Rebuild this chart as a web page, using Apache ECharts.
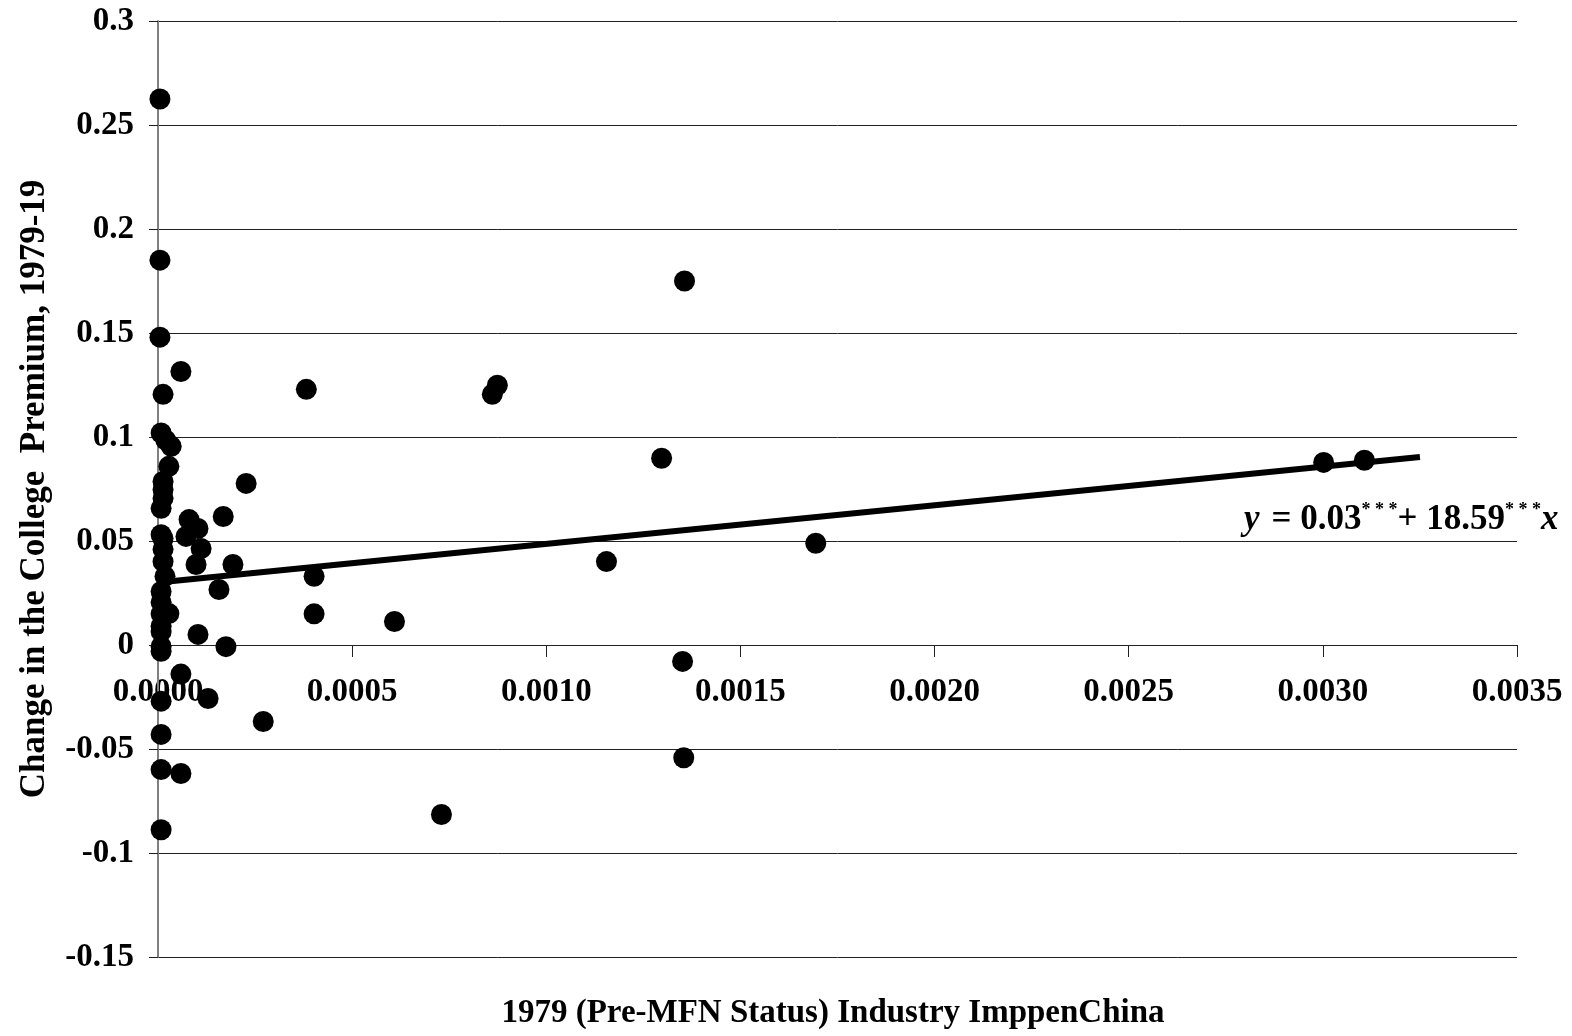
<!DOCTYPE html>
<html>
<head>
<meta charset="utf-8">
<script src="https://cdn.jsdelivr.net/npm/echarts@6/dist/echarts.min.js"></script>
<style>html,body{margin:0;padding:0;background:#fff}#c{width:1572px;height:1036px}</style>
</head>
<body>
<div id="c"></div>
<script>
// Data
const xValues = [
  0.000005, 0.000005, 0.000005, 0.000013, 0.000059,
  0.000008, 0.000020, 0.000034, 0.000028, 0.000013,
  0.000013, 0.000013, 0.000008, 0.000008, 0.000013,
  0.000013, 0.000013, 0.000018, 0.000008, 0.000008,
  0.000008, 0.000028, 0.000008, 0.000008, 0.000059,
  0.000008, 0.000129, 0.000008, 0.000008, 0.000059,
  0.000008, 0.000080, 0.000103, 0.000072, 0.000111,
  0.000098, 0.000168, 0.000227, 0.000193, 0.000157,
  0.000103, 0.000175, 0.000271, 0.000382, 0.000402,
  0.000402, 0.000609, 0.000730, 0.000861, 0.000874,
  0.001155, 0.001297, 0.001356, 0.001351, 0.001354,
  0.001694, 0.003002, 0.003107, 0.000008, 0.000008
];
const yValues = [
  0.2625, 0.185, 0.148, 0.1205, 0.1315,
  0.1019, 0.0985, 0.0955, 0.0859, 0.0786,
  0.0748, 0.0705, 0.0657, 0.0530, 0.0512,
  0.0460, 0.0401, 0.0330, 0.0257, 0.0205,
  0.0150, 0.0151, 0.0090, 0.0064, -0.0140,
  -0.0030, -0.0257, -0.0270, -0.0430, -0.0618,
  -0.0599, 0.0603, 0.0560, 0.0522, 0.0464,
  0.0387, 0.0618, 0.0777, 0.0387, 0.0267,
  0.0051, -0.0008, -0.0368, 0.1229, 0.0330,
  0.0150, 0.0113, -0.0815, 0.1205, 0.1249,
  0.0401, 0.0898, 0.1750, -0.0079, -0.0542,
  0.0489, 0.0878, 0.0888, -0.0888, -0.0007
];

const fitIntercept = 0.03;
const fitSlope = 18.59;
const fitXRange = [0, 0.00325];

const xTickValues = [0, 0.0005, 0.001, 0.0015, 0.002, 0.0025, 0.003, 0.0035];
const xTickLabels = ['0.0000','0.0005','0.0010','0.0015','0.0020','0.0025','0.0030','0.0035'];
const yTickLabels = ['-0.15','-0.1','-0.05','0','0.05','0.1','0.15','0.2','0.25','0.3'];

const pts = xValues.map((x, i) => [x, yValues[i]]);
const fitLine = fitXRange.map(x => [x, fitIntercept + fitSlope * x]);

const FONT = '"Liberation Serif", "Times New Roman", serif';
const chart = echarts.init(document.getElementById('c'), null, {renderer: 'canvas'});
const option = {
  animation: false,
  backgroundColor: '#fff',
  grid: {left: 158, right: 55, top: 21, bottom: 79, containLabel: false},
  xAxis: {
    type: 'value', min: 0, max: 0.0035, interval: 0.0005,
    axisLine: {show: true, onZero: true, lineStyle: {color: '#222', width: 1}},
    axisTick: {show: true, length: 12, lineStyle: {color: '#222'}},
    splitLine: {show: false},
    axisLabel: {show: false}
  },
  yAxis: {
    type: 'value', min: -0.15, max: 0.3, interval: 0.05,
    name: 'Change in the College  Premium, 1979-19',
    nameLocation: 'middle', nameGap: 106, nameRotate: 90,
    nameTextStyle: {fontFamily: FONT, fontWeight: 'bold', fontSize: 35, color: '#000'},
    axisLine: {show: true, onZero: false, lineStyle: {color: '#808080', width: 2}},
    axisTick: {show: true, length: 9, lineStyle: {color: '#222'}},
    splitLine: {show: true, lineStyle: {color: '#222', width: 1}},
    axisLabel: {
      margin: 24, fontFamily: FONT, fontWeight: 'bold', fontSize: 33, color: '#000',
      formatter: v => yTickLabels[Math.round((v + 0.15) / 0.05)]
    }
  },
  series: [
    {
      type: 'line', data: fitLine, showSymbol: false, symbol: 'none', z: 3,
      lineStyle: {color: '#000', width: 6}
    },
    {
      type: 'scatter', data: pts, symbol: 'circle', symbolSize: 21, z: 4,
      itemStyle: {color: '#000', opacity: 1}
    }
  ]
};
chart.setOption(option);

const graphics = [
  {
    type: 'text', x: 833, y: 1013, z: 10,
    style: {
      text: '1979 (Pre-MFN Status) Industry ImppenChina',
      font: 'bold 33px ' + FONT, fill: '#000',
      textAlign: 'center', textVerticalAlign: 'middle'
    }
  },
  {
    type: 'text', x: 1244, y: 520, z: 10,
    style: {
      text: '{i|y} {n| = 0.03}{s|* * *}{n|+ 18.59}{s|* * *}{i|x}',
      fill: '#000', textVerticalAlign: 'middle',
      rich: {
        i: {fontFamily: FONT, fontWeight: 'bold', fontStyle: 'italic', fontSize: 35, fill: '#000', color: '#000'},
        n: {fontFamily: FONT, fontWeight: 'bold', fontSize: 35, fill: '#000', color: '#000'},
        s: {fontFamily: FONT, fontWeight: 'bold', fontSize: 18, fill: '#000', color: '#000', verticalAlign: 'top', padding: [0, 0, 20, 0]}
      }
    }
  }
];
xTickValues.forEach((v, i) => {
  const p = chart.convertToPixel({gridIndex: 0}, [v, 0]);
  graphics.push({
    type: 'text', x: p[0], y: p[1] + 31, z: 0, zlevel: 0,
    style: {
      text: xTickLabels[i], font: 'bold 33px ' + FONT, fill: '#000',
      textAlign: 'center', textVerticalAlign: 'top'
    }
  });
});
chart.setOption({graphic: graphics});
</script>
</body>
</html>
